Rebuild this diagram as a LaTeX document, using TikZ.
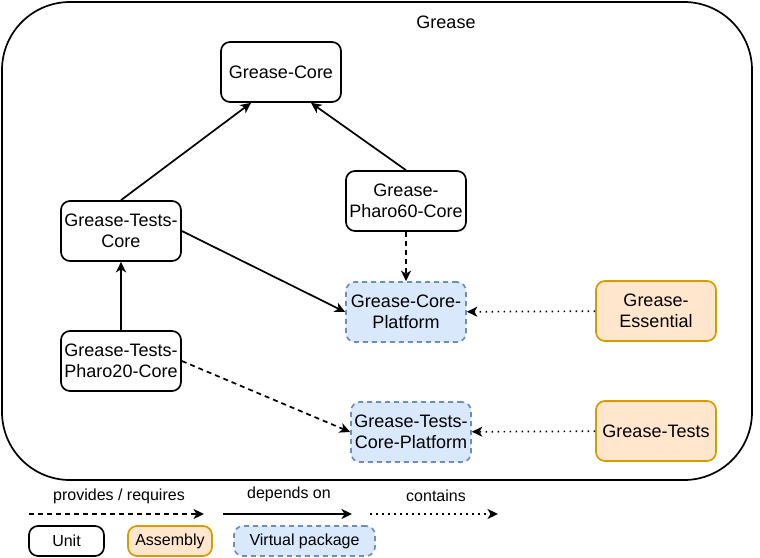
\documentclass[tikz,border=0pt]{standalone}
\usepackage{fontspec}
\setmainfont{Liberation Sans}
\usetikzlibrary{arrows.meta}
\definecolor{asmfill}{HTML}{FFE6CC}
\definecolor{asmdraw}{HTML}{D79B00}
\definecolor{vpfill}{HTML}{DAE8FC}
\definecolor{vpdraw}{HTML}{6C8EBF}
\begin{document}
\begin{tikzpicture}[x=1pt,y=-1pt,line width=1.7pt,
                font=\fontsize{18}{20.5}\selectfont,
                unit/.style={draw,rounded corners=9pt,align=center,inner sep=0pt,
                             minimum width=120pt,minimum height=60pt},
                assembly/.style={unit,draw=asmdraw,fill=asmfill},
                virtual/.style={unit,draw=vpdraw,fill=vpfill,dash pattern=on 5pt off 4pt},
                legend/.style={font=\fontsize{16}{18}\selectfont,minimum height=30pt,minimum width=0pt},
                >={Stealth[length=10.5pt,width=10pt,inset=3pt]},
                provides/.style={->,dash pattern=on 5pt off 4pt},
                contains/.style={->,dash pattern=on 1.5pt off 4.5pt}]
                \useasboundingbox (0,0) rectangle (760,557);
                \draw[rounded corners=68pt] (2,2) rectangle (752,480);
                \node (grease) at (446,22) {Grease};
                \node[unit] (core)     at (281,72)  {Grease-Core};
                \node[unit] (pharo60)  at (406,201) {Grease-\\Pharo60-Core};
                \node[unit] (testcore) at (121,231) {Grease-Tests-\\Core};
                \node[unit] (pharo20)  at (121,361) {Grease-Tests-\\Pharo20-Core};
                \node[virtual] (coreplat) at (406,312) {Grease-Core-\\Platform};
                \node[virtual] (testplat) at (411,432) {Grease-Tests-\\Core-Platform};
                \node[assembly] (essential) at (656,311) {Grease-\\Essential};
                \node[assembly] (tests)     at (656,431) {Grease-Tests};
                \draw[->] (testcore.north) -- ([xshift=-30pt]core.south);
                \draw[->] (pharo60.north) -- ([xshift=30pt]core.south);
                \draw[->] (pharo20) -- (testcore);
                \draw[->] (testcore.east) -- (coreplat.west);
                \draw[provides] (pharo60) -- (coreplat);
                \draw[provides] (pharo20.east) -- (testplat.west);
                \draw[contains] (essential) -- (coreplat);
                \draw[contains] (tests) -- (testplat);
                % legend
                \node[font=\fontsize{16}{18}\selectfont] (lprov) at (119,496) {provides / requires};
                \node[font=\fontsize{16}{18}\selectfont] (ldep)  at (289,494) {depends on};
                \node[font=\fontsize{16}{18}\selectfont] (lcont) at (436,496) {contains};
                \coordinate (p1) at (29,514);  \coordinate (p2) at (204,514);
                \coordinate (d1) at (223,514); \coordinate (d2) at (352,514);
                \coordinate (c1) at (370,514); \coordinate (c2) at (498,514);
                \draw[provides] (p1) -- (p2);
                \draw[->] (d1) -- (d2);
                \draw[contains] (c1) -- (c2);
                \node[unit,legend,minimum width=75pt]      (lunit) at (66.5,541) {Unit};
                \node[assembly,legend,minimum width=84pt]  (lasm)  at (170,541)  {Assembly};
                \node[virtual,legend,minimum width=141pt]  (lvirt) at (304.5,541) {Virtual package};
\end{tikzpicture}
\end{document}
